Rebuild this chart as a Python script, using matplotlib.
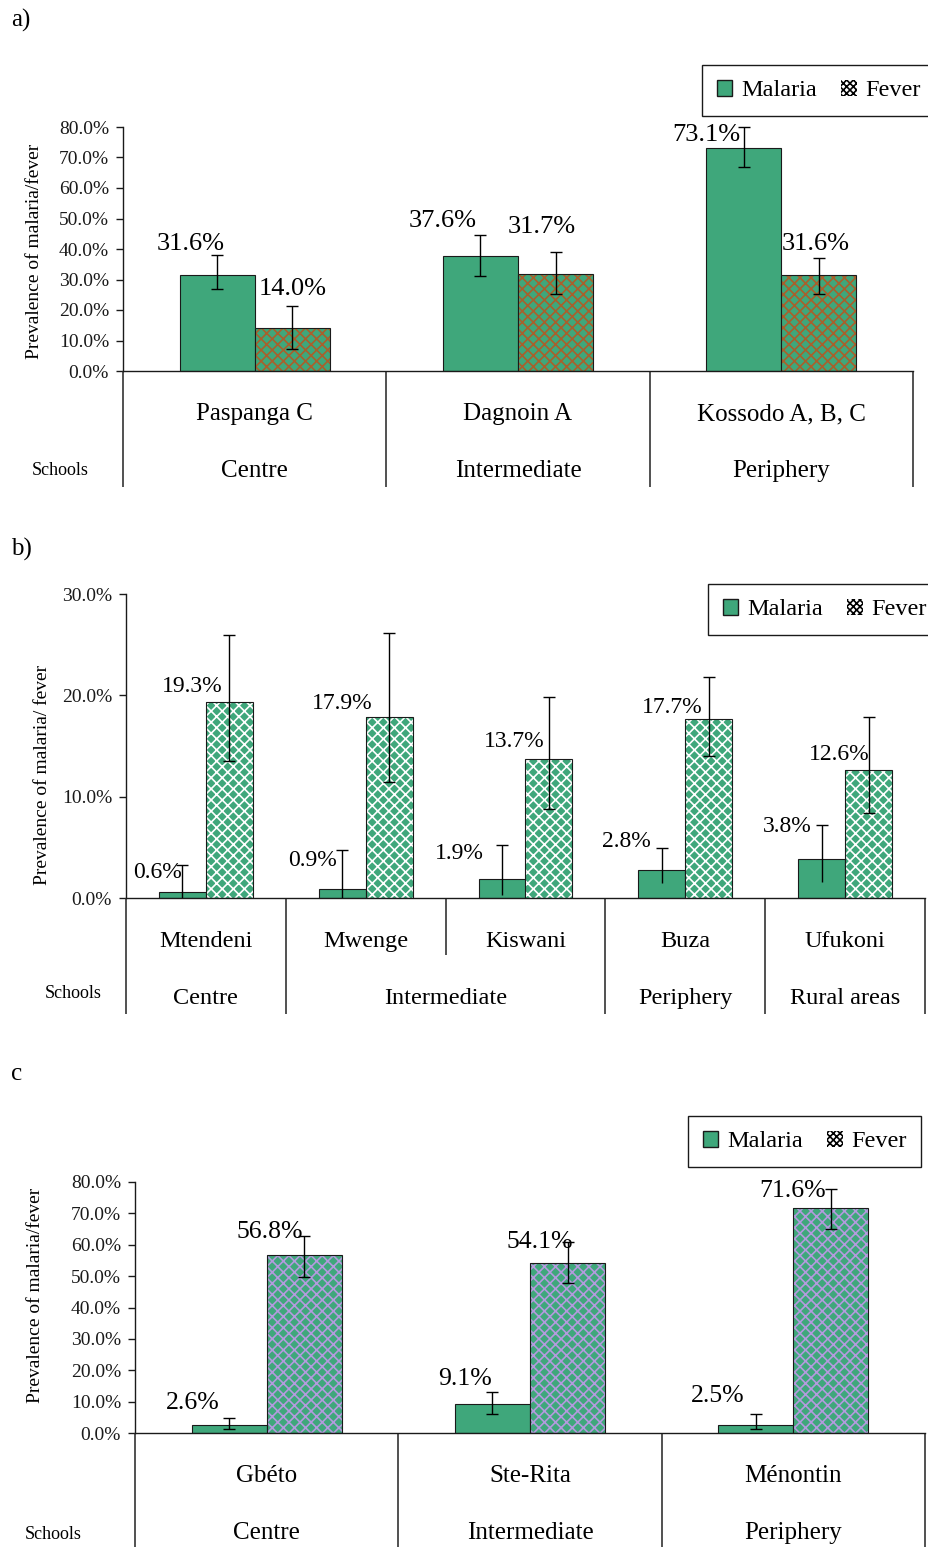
import numpy as np
import matplotlib
matplotlib.use("Agg")
import matplotlib.pyplot as plt
import matplotlib.patches as mpatches
from matplotlib.ticker import FuncFormatter

plt.rcParams['font.family'] = ['Liberation Serif', 'DejaVu Serif']
plt.rcParams['hatch.linewidth'] = 1.2

W, H = 929, 1547
GREEN = '#3fa77b'

# a) three schools
schools_a = ["Paspanga C", "Dagnoin A", "Kossodo A, B, C"]
regions_a = ["Centre", "Intermediate", "Periphery"]
spans_a = [1, 1, 1]
malaria_a = [31.6, 37.6, 73.1]
fever_a = [14.0, 31.7, 31.6]
malaria_lo_a = [26.9, 31.1, 66.9]
malaria_hi_a = [38.0, 44.6, 80.0]
fever_lo_a = [7.2, 25.2, 25.2]
fever_hi_a = [21.3, 39.0, 37.0]

# b) five schools
schools_b = ["Mtendeni", "Mwenge", "Kiswani", "Buza", "Ufukoni"]
regions_b = ["Centre", "Intermediate", "Periphery", "Rural areas"]
spans_b = [1, 2, 1, 1]
malaria_b = [0.6, 0.9, 1.9, 2.8, 3.8]
fever_b = [19.3, 17.9, 13.7, 17.7, 12.6]
malaria_lo_b = [0.0, 0.0, 0.3, 1.5, 1.6]
malaria_hi_b = [3.3, 4.7, 5.2, 4.9, 7.2]
fever_lo_b = [13.5, 11.4, 8.8, 14.0, 8.4]
fever_hi_b = [26.0, 26.2, 19.8, 21.8, 17.9]

# c) three schools
schools_c = ["Gbéto", "Ste-Rita", "Ménontin"]
regions_c = ["Centre", "Intermediate", "Periphery"]
spans_c = [1, 1, 1]
malaria_c = [2.6, 9.1, 2.5]
fever_c = [56.8, 54.1, 71.6]
malaria_lo_c = [1.3, 6.1, 1.3]
malaria_hi_c = [4.8, 13.1, 6.1]
fever_lo_c = [49.8, 47.9, 64.9]
fever_hi_c = [62.9, 61.0, 77.9]

# label nudges (pixels) from the top of each bar
m_off_a = [(-26, 25), (-38, 29), (-37, 7)]
f_off_a = [(0, 33), (-14, 41), (-3, 25)]
m_off_b = [(-25, 14), (-30, 23), (-43, 20), (-35, 23), (-34, 27)]
f_off_b = [(-37, 10), (-47, 8), (-35, 12), (-37, 6), (-29, 10)]
m_off_c = [(-36, 16), (-27, 19), (-38, 23)]
f_off_c = [(-34, 17), (-28, 15), (-38, 11)]

fig = plt.figure(figsize=(W / 100, H / 100), dpi=100)


def fx(px):
    return px / W


def fy(py):
    return 1 - py / H


def errbars(ax, xs, lo, hi, low_caps=True):
    ax.vlines(xs, lo, hi, color='black', lw=1, zorder=4)
    ax.plot(xs, hi, ls='none', marker='_', ms=9, mew=1, color='black', zorder=4, clip_on=False)
    if low_caps:
        ax.plot(xs, lo, ls='none', marker='_', ms=9, mew=1, color='black', zorder=4, clip_on=False)


def draw_panel(box, ymax, schools, regions, spans, malaria, fever,
               m_lo, m_hi, f_lo, f_hi, m_off, f_off, hatch_col, width,
               val_size, cat_size, short_depth, m_low_caps=True):
    x0, ytop, x1, yzero = box
    ax = fig.add_axes([fx(x0), fy(yzero), (x1 - x0) / W, (yzero - ytop) / H])
    n = len(schools)
    idx = np.arange(n) + 0.5
    xm = idx - width / 2
    xf = idx + width / 2

    ax.bar(xm, malaria, width, color=GREEN, edgecolor='#1a1a1a', linewidth=0.8, zorder=2)
    ax.bar(xf, fever, width, color=GREEN, edgecolor=hatch_col, hatch='xxx', linewidth=0, zorder=2)
    ax.bar(xf, fever, width, facecolor='none', edgecolor='#1a1a1a', linewidth=0.8, zorder=3)

    errbars(ax, xm, m_lo, m_hi, m_low_caps)
    errbars(ax, xf, f_lo, f_hi, True)

    for xs, vals, offs in ((xm, malaria, m_off), (xf, fever, f_off)):
        for x, v, (dx, dy) in zip(xs, vals, offs):
            ax.annotate(f"{v:.1f}%", (x, v), xytext=(dx, dy), textcoords='offset pixels',
                        ha='center', va='baseline', fontsize=val_size, zorder=5,
                        annotation_clip=False)

    ax.set_xlim(0, n)
    ax.set_ylim(0, ymax)
    ax.set_yticks(np.arange(0, ymax + 1, 10))
    ax.yaxis.set_major_formatter(FuncFormatter(lambda v, p: f"{v:.1f}%"))
    ax.tick_params(axis='y', direction='out', length=5, width=1, pad=5, labelsize=14,
                   colors='#1a1a1a')
    ax.set_xticks([])
    for s in ('top', 'right'):
        ax.spines[s].set_visible(False)
    for s in ('left', 'bottom'):
        ax.spines[s].set_linewidth(1)
        ax.spines[s].set_color('#1a1a1a')

    # category table under the axis
    h_px = yzero - ytop
    tr = ax.get_xaxis_transform()
    edges = set(np.concatenate([[0], np.cumsum(spans)]).tolist())
    for b in range(n + 1):
        depth = 116 if b in edges else short_depth
        ax.plot([b, b], [0, -depth / h_px], transform=tr, color='#333333', lw=1.2,
                clip_on=False, solid_capstyle='butt')
    for i, name in enumerate(schools):
        ax.text(i + 0.5, -49 / h_px, name, transform=tr, ha='center', va='baseline',
                fontsize=cat_size)
    start = 0
    for name, span in zip(regions, spans):
        ax.text(start + span / 2, -106 / h_px, name, transform=tr, ha='center',
                va='baseline', fontsize=cat_size)
        start += span
    return ax


def legend_at(x, y):
    handles = [mpatches.Patch(facecolor=GREEN, edgecolor='#1a1a1a', linewidth=1),
               mpatches.Patch(facecolor='white', edgecolor='black', hatch='xxxxx',
                              linewidth=0)]
    fig.legend(handles, ["Malaria", "Fever"], loc='upper left',
               bbox_to_anchor=(fx(x), fy(y)), bbox_transform=fig.transFigure,
               ncol=2, fontsize=17.5, frameon=True, fancybox=False, edgecolor='#1a1a1a',
               framealpha=1, borderpad=0.6, handlelength=0.65, handleheight=0.65,
               handletextpad=0.35, columnspacing=1.0, borderaxespad=0)


# panel a
draw_panel((123, 127, 913, 371), 80, schools_a, regions_a, spans_a, malaria_a, fever_a,
           malaria_lo_a, malaria_hi_a, fever_lo_a, fever_hi_a, m_off_a, f_off_a,
           '#a9602c', 0.285, 19, 18, 116)
fig.text(fx(11), fy(27), "a)", fontsize=18, ha='left', va='baseline')
fig.text(fx(35), fy(251), "Prevalence of malaria/fever", rotation=90, ha='center',
         va='center', fontsize=14)
fig.text(fx(60), fy(475), "Schools", ha='center', va='baseline', fontsize=13)
legend_at(702, 65)

# panel b
draw_panel((126, 594, 925, 898), 30, schools_b, regions_b, spans_b, malaria_b, fever_b,
           malaria_lo_b, malaria_hi_b, fever_lo_b, fever_hi_b, m_off_b, f_off_b,
           'white', 0.294, 17, 17.5, 57, m_low_caps=False)
fig.text(fx(11), fy(556), "b)", fontsize=18, ha='left', va='baseline')
fig.text(fx(43), fy(775), "Prevalence of malaria/ fever", rotation=90, ha='center',
         va='center', fontsize=14)
fig.text(fx(73), fy(998), "Schools", ha='center', va='baseline', fontsize=13)
legend_at(708, 584)

# panel c
draw_panel((135, 1182, 925, 1433), 80, schools_c, regions_c, spans_c, malaria_c, fever_c,
           malaria_lo_c, malaria_hi_c, fever_lo_c, fever_hi_c, m_off_c, f_off_c,
           '#b49ade', 0.285, 18.5, 18, 116)
fig.text(fx(11), fy(1080), "c", fontsize=18, ha='left', va='baseline')
fig.text(fx(36), fy(1295), "Prevalence of malaria/fever", rotation=90, ha='center',
         va='center', fontsize=14)
fig.text(fx(53), fy(1539), "Schools", ha='center', va='baseline', fontsize=13)
legend_at(688, 1116)

fig.savefig("out.png", dpi=100)
